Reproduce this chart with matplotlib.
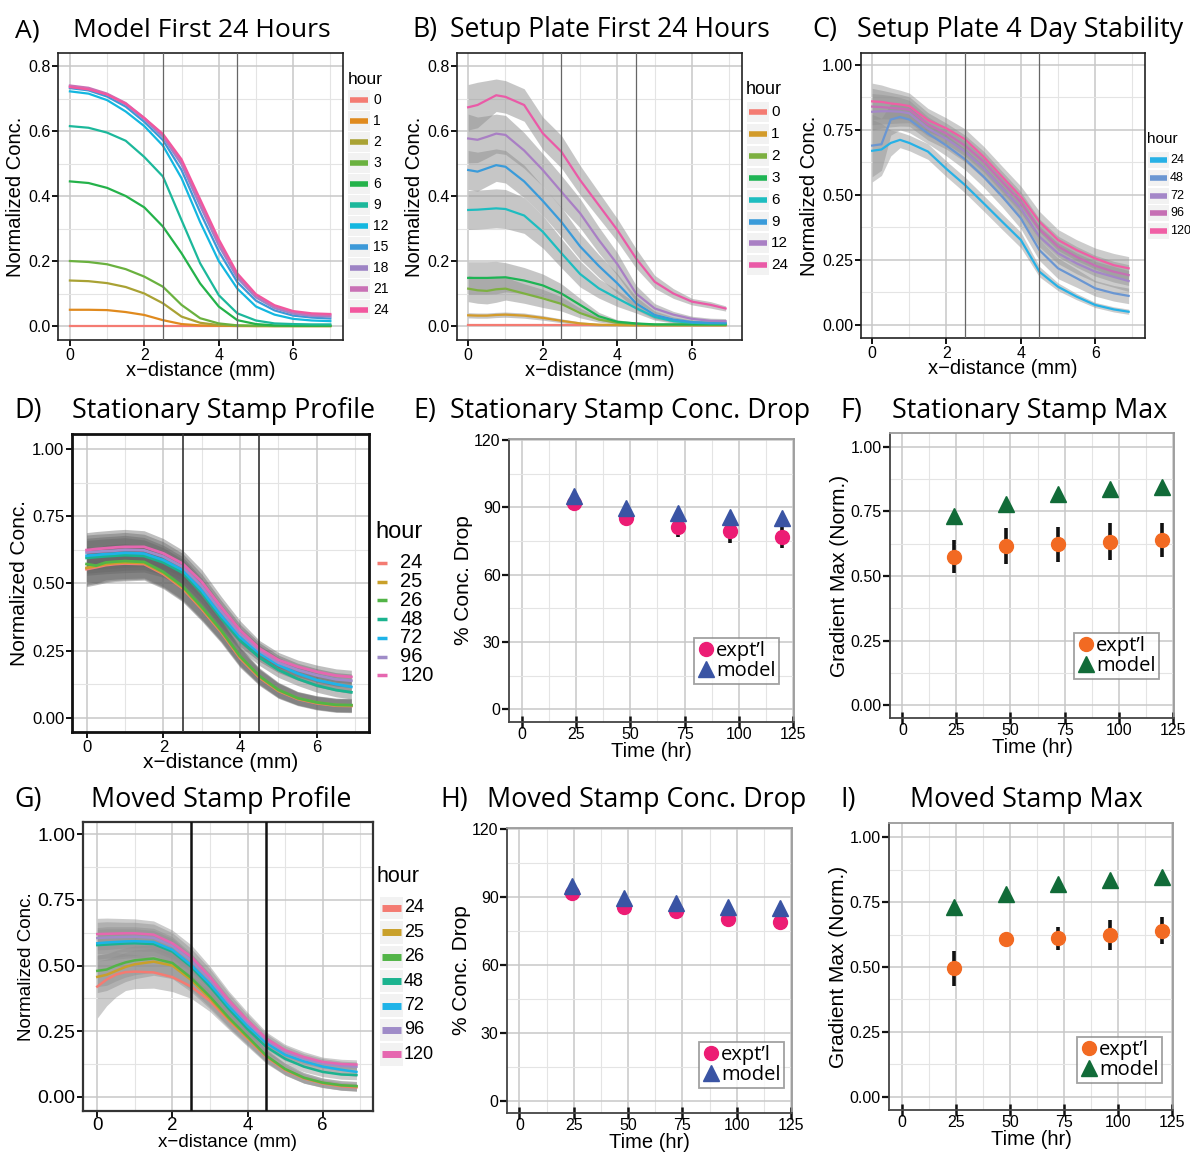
import matplotlib
matplotlib.use('Agg')
import matplotlib.pyplot as plt
from matplotlib.lines import Line2D
from matplotlib.patches import Rectangle

plt.rcParams['font.family'] = ['Liberation Sans', 'DejaVu Sans']
TITLE_FONT = ['Open Sans', 'DejaVu Sans']

W, H = 1190, 1155

# ---------------- data ----------------
# A) model, first 24 hours
xa = [0, 0.5, 1, 1.5, 2, 2.5, 3, 3.5, 4, 4.5, 5, 5.5, 6, 6.5, 7]
hours_a = ['0', '1', '2', '3', '6', '9', '12', '15', '18', '21', '24']
cols_a = ['#F47B72', '#E08A1E', '#A9A234', '#6AB13F', '#24B24A', '#1CB89B',
          '#13B7E0', '#3C99D8', '#9D83C4', '#C971B5', '#F2579E']
a0 = [0, 0, 0, 0, 0, 0, 0, 0, 0, 0, 0, 0, 0, 0, 0]
a1 = [0.050, 0.050, 0.049, 0.043, 0.034, 0.018, 0.006, 0.002, 0.001, 0, 0, 0, 0, 0, 0]
a2 = [0.140, 0.138, 0.132, 0.120, 0.100, 0.070, 0.029, 0.010, 0.003, 0.001, 0, 0, 0, 0, 0]
a3 = [0.200, 0.197, 0.190, 0.175, 0.152, 0.121, 0.065, 0.024, 0.008, 0.002, 0.001, 0, 0, 0, 0]
a6 = [0.445, 0.440, 0.425, 0.400, 0.365, 0.306, 0.224, 0.131, 0.060, 0.018, 0.006, 0.002, 0.001, 0.001, 0.001]
a9 = [0.615, 0.610, 0.595, 0.570, 0.520, 0.460, 0.326, 0.193, 0.095, 0.039, 0.017, 0.008, 0.006, 0.005, 0.005]
a12 = [0.722, 0.715, 0.695, 0.660, 0.615, 0.555, 0.455, 0.320, 0.200, 0.115, 0.060, 0.035, 0.022, 0.017, 0.015]
a15 = [0.732, 0.725, 0.706, 0.675, 0.628, 0.572, 0.480, 0.350, 0.230, 0.135, 0.078, 0.048, 0.032, 0.026, 0.023]
a18 = [0.738, 0.730, 0.712, 0.682, 0.636, 0.582, 0.497, 0.370, 0.248, 0.148, 0.088, 0.055, 0.038, 0.031, 0.029]
a21 = [0.740, 0.733, 0.715, 0.686, 0.640, 0.588, 0.506, 0.382, 0.258, 0.156, 0.094, 0.060, 0.043, 0.035, 0.033]
a24 = [0.735, 0.728, 0.712, 0.684, 0.640, 0.591, 0.513, 0.390, 0.267, 0.162, 0.098, 0.064, 0.046, 0.039, 0.037]
curves_a = [a0, a1, a2, a3, a6, a9, a12, a15, a18, a21, a24]

# experimental x grid (mm)
xe = [0, 0.25, 0.5, 0.75, 1, 1.5, 2, 2.5, 3, 3.5, 4, 4.5, 5, 5.5, 6, 6.5, 6.9]

# B) setup plate, first 24 hours (mean and ribbon half-width)
hours_b = ['0', '1', '2', '3', '6', '9', '12', '24']
cols_b = ['#F47B72', '#D39B2A', '#7DB041', '#1EB454', '#1DBDC0', '#3A9BDA', '#A97FC4', '#EA5AA7']
b0 = [0.003, 0.003, 0.003, 0.003, 0.003, 0.003, 0.003, 0.003, 0.003, 0.003, 0.003, 0.003, 0.003, 0.003, 0.003, 0.003, 0.003]
b1 = [0.033, 0.032, 0.032, 0.034, 0.035, 0.032, 0.025, 0.016, 0.008, 0.004, 0.003, 0.002, 0.002, 0.002, 0.002, 0.002, 0.002]
b2 = [0.115, 0.110, 0.108, 0.113, 0.115, 0.100, 0.085, 0.068, 0.040, 0.020, 0.010, 0.006, 0.004, 0.004, 0.004, 0.004, 0.004]
b3 = [0.148, 0.148, 0.148, 0.149, 0.150, 0.140, 0.125, 0.100, 0.065, 0.030, 0.013, 0.008, 0.005, 0.005, 0.005, 0.005, 0.005]
b6 = [0.357, 0.358, 0.360, 0.362, 0.360, 0.340, 0.290, 0.224, 0.160, 0.116, 0.085, 0.055, 0.028, 0.015, 0.010, 0.008, 0.008]
b9 = [0.480, 0.475, 0.485, 0.495, 0.490, 0.445, 0.385, 0.320, 0.245, 0.185, 0.131, 0.070, 0.034, 0.020, 0.012, 0.010, 0.010]
b12 = [0.577, 0.573, 0.582, 0.592, 0.588, 0.540, 0.480, 0.413, 0.347, 0.265, 0.190, 0.100, 0.054, 0.035, 0.022, 0.016, 0.015]
b24 = [0.673, 0.680, 0.695, 0.710, 0.705, 0.680, 0.593, 0.536, 0.449, 0.372, 0.295, 0.208, 0.136, 0.100, 0.075, 0.065, 0.054]
bw0 = [0.002, 0.002, 0.002, 0.002, 0.002, 0.002, 0.002, 0.002, 0.002, 0.002, 0.002, 0.002, 0.002, 0.002, 0.002, 0.002, 0.002]
bw1 = [0.008, 0.008, 0.008, 0.008, 0.008, 0.008, 0.007, 0.006, 0.005, 0.004, 0.003, 0.002, 0.002, 0.002, 0.002, 0.002, 0.002]
bw2 = [0.040, 0.040, 0.040, 0.040, 0.035, 0.030, 0.028, 0.022, 0.015, 0.008, 0.004, 0.003, 0.003, 0.003, 0.003, 0.003, 0.003]
bw3 = [0.050, 0.050, 0.050, 0.050, 0.045, 0.040, 0.035, 0.030, 0.020, 0.012, 0.006, 0.004, 0.003, 0.003, 0.003, 0.003, 0.003]
bw6 = [0.060, 0.060, 0.060, 0.060, 0.060, 0.055, 0.050, 0.045, 0.040, 0.030, 0.025, 0.015, 0.010, 0.006, 0.005, 0.005, 0.005]
bw9 = [0.060, 0.060, 0.055, 0.050, 0.050, 0.050, 0.045, 0.045, 0.040, 0.035, 0.030, 0.020, 0.012, 0.008, 0.006, 0.006, 0.006]
bw12 = [0.075, 0.070, 0.065, 0.060, 0.060, 0.055, 0.050, 0.050, 0.045, 0.040, 0.035, 0.025, 0.015, 0.010, 0.008, 0.008, 0.008]
bw24 = [0.070, 0.070, 0.060, 0.050, 0.050, 0.050, 0.050, 0.050, 0.045, 0.040, 0.035, 0.030, 0.020, 0.015, 0.010, 0.010, 0.008]
curves_b = [b0, b1, b2, b3, b6, b9, b12, b24]
widths_b = [bw0, bw1, bw2, bw3, bw6, bw9, bw12, bw24]

# C) setup plate, 4 day stability
hours_c = ['24', '48', '72', '96', '120']
cols_c = ['#27B1E6', '#6A96D2', '#A487C8', '#C66FB4', '#F05FA5']
c24 = [0.670, 0.675, 0.700, 0.712, 0.700, 0.667, 0.600, 0.538, 0.468, 0.397, 0.327, 0.205, 0.147, 0.109, 0.077, 0.060, 0.051]
c48 = [0.690, 0.695, 0.790, 0.800, 0.790, 0.737, 0.690, 0.637, 0.570, 0.494, 0.410, 0.288, 0.218, 0.180, 0.141, 0.122, 0.112]
c72 = [0.820, 0.822, 0.822, 0.820, 0.814, 0.756, 0.716, 0.667, 0.603, 0.526, 0.449, 0.340, 0.276, 0.237, 0.205, 0.185, 0.169]
c96 = [0.840, 0.838, 0.835, 0.832, 0.828, 0.772, 0.736, 0.690, 0.628, 0.550, 0.472, 0.368, 0.302, 0.262, 0.228, 0.205, 0.192]
c120 = [0.860, 0.858, 0.852, 0.848, 0.842, 0.788, 0.756, 0.714, 0.647, 0.570, 0.494, 0.397, 0.327, 0.288, 0.256, 0.230, 0.218]
cw24 = [0.120, 0.100, 0.050, 0.030, 0.030, 0.030, 0.030, 0.030, 0.030, 0.030, 0.030, 0.020, 0.015, 0.012, 0.010, 0.010, 0.010]
cw48 = [0.120, 0.100, 0.060, 0.050, 0.050, 0.040, 0.040, 0.040, 0.040, 0.040, 0.040, 0.040, 0.040, 0.035, 0.030, 0.030, 0.030]
cw72 = [0.070, 0.065, 0.060, 0.055, 0.050, 0.045, 0.040, 0.040, 0.040, 0.040, 0.040, 0.040, 0.040, 0.040, 0.040, 0.040, 0.040]
cw96 = [0.070, 0.065, 0.060, 0.055, 0.050, 0.045, 0.040, 0.040, 0.040, 0.040, 0.040, 0.040, 0.040, 0.040, 0.040, 0.040, 0.040]
cw120 = [0.070, 0.065, 0.060, 0.055, 0.050, 0.045, 0.040, 0.040, 0.040, 0.040, 0.040, 0.040, 0.040, 0.040, 0.040, 0.045, 0.045]
curves_c = [c24, c48, c72, c96, c120]
widths_c = [cw24, cw48, cw72, cw96, cw120]

# D) stationary stamp profile
hours_dg = ['24', '25', '26', '48', '72', '96', '120']
cols_dg = ['#F47B72', '#C9A02A', '#52B447', '#1BB38F', '#1EB3E8', '#9F8CC8', '#E667B0']
d24 = [0.553, 0.560, 0.568, 0.572, 0.574, 0.572, 0.535, 0.482, 0.405, 0.320, 0.222, 0.150, 0.100, 0.070, 0.054, 0.045, 0.044]
d25 = [0.558, 0.565, 0.572, 0.576, 0.578, 0.576, 0.539, 0.486, 0.409, 0.324, 0.226, 0.153, 0.102, 0.072, 0.056, 0.047, 0.046]
d26 = [0.572, 0.566, 0.578, 0.581, 0.583, 0.580, 0.543, 0.490, 0.413, 0.327, 0.229, 0.156, 0.104, 0.073, 0.057, 0.048, 0.047]
d48 = [0.595, 0.598, 0.601, 0.603, 0.605, 0.602, 0.578, 0.540, 0.465, 0.372, 0.288, 0.225, 0.178, 0.145, 0.120, 0.103, 0.095]
d72 = [0.603, 0.606, 0.609, 0.611, 0.614, 0.611, 0.587, 0.550, 0.474, 0.382, 0.300, 0.240, 0.196, 0.165, 0.140, 0.125, 0.115]
d96 = [0.615, 0.618, 0.620, 0.622, 0.625, 0.623, 0.600, 0.562, 0.490, 0.398, 0.313, 0.250, 0.205, 0.178, 0.158, 0.143, 0.138]
d120 = [0.624, 0.628, 0.631, 0.634, 0.636, 0.636, 0.612, 0.574, 0.506, 0.413, 0.326, 0.258, 0.215, 0.190, 0.171, 0.157, 0.152]
dw = [0.065, 0.065, 0.065, 0.065, 0.065, 0.060, 0.055, 0.050, 0.045, 0.040, 0.035, 0.030, 0.028, 0.025, 0.025, 0.025, 0.025]
curves_d = [d24, d25, d26, d48, d72, d96, d120]

# G) moved stamp profile
g24 = [0.420, 0.447, 0.466, 0.475, 0.477, 0.474, 0.456, 0.420, 0.365, 0.292, 0.222, 0.152, 0.102, 0.070, 0.051, 0.040, 0.036]
g25 = [0.457, 0.465, 0.480, 0.495, 0.505, 0.515, 0.500, 0.445, 0.375, 0.297, 0.226, 0.155, 0.105, 0.072, 0.053, 0.043, 0.040]
g26 = [0.480, 0.485, 0.500, 0.512, 0.520, 0.527, 0.510, 0.453, 0.382, 0.302, 0.230, 0.157, 0.106, 0.073, 0.054, 0.044, 0.041]
g48 = [0.578, 0.580, 0.582, 0.584, 0.585, 0.582, 0.553, 0.495, 0.420, 0.335, 0.258, 0.190, 0.145, 0.115, 0.095, 0.085, 0.083]
g72 = [0.585, 0.588, 0.590, 0.592, 0.593, 0.590, 0.560, 0.502, 0.430, 0.345, 0.270, 0.205, 0.160, 0.135, 0.115, 0.103, 0.095]
g96 = [0.605, 0.607, 0.608, 0.609, 0.610, 0.606, 0.575, 0.520, 0.447, 0.360, 0.283, 0.215, 0.172, 0.145, 0.128, 0.118, 0.115]
g120 = [0.620, 0.621, 0.622, 0.623, 0.623, 0.618, 0.585, 0.534, 0.457, 0.368, 0.292, 0.222, 0.178, 0.152, 0.133, 0.125, 0.123]
gw24 = [0.120, 0.100, 0.085, 0.070, 0.065, 0.060, 0.055, 0.045, 0.040, 0.035, 0.030, 0.025, 0.020, 0.018, 0.015, 0.015, 0.015]
gw = [0.060, 0.060, 0.058, 0.056, 0.055, 0.052, 0.050, 0.045, 0.040, 0.035, 0.030, 0.025, 0.022, 0.020, 0.018, 0.018, 0.018]
curves_g = [g24, g25, g26, g48, g72, g96, g120]
widths_g = [gw24, gw, gw, gw, gw, gw, gw]

# E, F, H, I) summary points
times = [24, 48, 72, 96, 120]
e_expt = [92.1, 85.1, 81.4, 79.2, 76.9]
e_err = [1.0, 2.0, 4.6, 5.0, 5.2]
e_model = [95.0, 89.6, 87.3, 85.8, 85.1]
f_expt = [0.575, 0.617, 0.622, 0.633, 0.640]
f_err = [0.064, 0.069, 0.068, 0.072, 0.066]
f_model = [0.732, 0.778, 0.817, 0.835, 0.845]
h_expt = [92.0, 85.8, 83.9, 80.2, 79.2]
h_err = [0.5, 2.5, 2.0, 2.5, 2.0]
h_model = [95.0, 89.5, 87.3, 85.8, 85.1]
i_expt = [0.495, 0.607, 0.610, 0.622, 0.640]
i_err = [0.068, 0.010, 0.046, 0.058, 0.051]
i_model = [0.733, 0.780, 0.819, 0.837, 0.847]


# ---------------- helpers ----------------
def fx(x):
    return x / W


def fy(y):
    return 1 - y / H


def px_box(l, t, r, b):
    return [l / W, 1 - b / H, (r - l) / W, (b - t) / H]


fig = plt.figure(figsize=(W / 100, H / 100), dpi=100)
fig.patch.set_facecolor('white')
renderer = fig.canvas.get_renderer()


def style_profile(ax, xlim, ylim, yticks, ylabels, yminor, tick_fs, frame_lw, frame_col,
                  vcol, vlw, lab_fs, xpad=-1, tpad=1.5):
    ax.set_xlim(*xlim)
    ax.set_ylim(*ylim)
    ax.set_xticks([0, 2, 4, 6])
    ax.set_xticklabels(['0', '2', '4', '6'])
    ax.set_xticks([1, 3, 5, 7], minor=True)
    ax.set_yticks(yticks)
    ax.set_yticklabels(ylabels)
    ax.set_yticks(yminor, minor=True)
    ax.grid(which='major', color='#c8c8c8', lw=1.1)
    ax.grid(which='minor', color='#e4e4e4', lw=0.8)
    ax.set_axisbelow(True)
    ax.tick_params(which='minor', length=0)
    ax.tick_params(which='major', direction='out', length=4, width=1.3, color='black',
                   labelsize=tick_fs, pad=1.5)
    ax.tick_params(axis='x', which='major', pad=tpad)
    for s in ax.spines.values():
        s.set_linewidth(frame_lw)
        s.set_color(frame_col)
    for xv in [2.5, 4.5]:
        ax.axvline(xv, color=vcol, lw=vlw, zorder=4)
    ax.set_xlabel('x\u2212distance (mm)', fontsize=lab_fs, labelpad=xpad)
    ax.set_ylabel('Normalized Conc.', fontsize=lab_fs, labelpad=2)


def style_points(ax, xlim, ylim, yticks, ylabels, yminor, ylab):
    ax.set_xlim(*xlim)
    ax.set_ylim(*ylim)
    ax.set_xticks([0, 25, 50, 75, 100, 125])
    ax.set_xticks([12.5, 37.5, 62.5, 87.5, 112.5], minor=True)
    ax.set_yticks(yticks)
    ax.set_yticklabels(ylabels)
    ax.set_yticks(yminor, minor=True)
    ax.grid(which='major', color='#c8c8c8', lw=1.1)
    ax.grid(which='minor', color='#e4e4e4', lw=0.8)
    ax.set_axisbelow(True)
    ax.tick_params(which='minor', length=0)
    ax.tick_params(axis='x', which='major', direction='inout', length=9, width=1.8,
                   color='#111111', labelsize=11.5, pad=-1)
    ax.tick_params(axis='y', which='major', direction='out', length=5, width=1.6,
                   color='#111111', labelsize=11.5, pad=1)
    ax.spines['left'].set_color('#444444')
    ax.spines['bottom'].set_color('#444444')
    ax.spines['top'].set_color('#9a9a9a')
    ax.spines['right'].set_color('#9a9a9a')
    for s in ax.spines.values():
        s.set_linewidth(1.3)
    ax.set_xlabel('Time (hr)', fontsize=14.5, labelpad=0)
    ax.set_ylabel(ylab, fontsize=15, labelpad=1)


def hour_legend(labels, colors, x_title, y_title, fs_title, k0, k1, x_text, y0, dy, fs, lw, bg=True):
    fig.text(fx(x_title), fy(y_title), 'hour', fontsize=fs_title, va='center', ha='left')
    for i, (lab, c) in enumerate(zip(labels, colors)):
        y = y0 + i * dy
        if bg:
            fig.add_artist(Rectangle((fx(k0 - 2), fy(y + dy / 2 - 1)), (k1 - k0 + 4) / W, (dy - 2) / H,
                                     transform=fig.transFigure, facecolor='#f2f2f2', edgecolor='none'))
        fig.add_artist(Line2D([fx(k0), fx(k1)], [fy(y), fy(y)], transform=fig.transFigure,
                              color=c, lw=lw, solid_capstyle='butt'))
        fig.text(fx(x_text), fy(y), lab, fontsize=fs, va='center', ha='left')


def point_legend(ax, c_expt, c_model, x, y):
    h1 = Line2D([], [], ls='none', marker='o', color=c_expt, ms=10)
    h2 = Line2D([], [], ls='none', marker='^', color=c_model, ms=12)
    leg = ax.legend([h1, h2], ['expt\u2019l', 'model'], loc='upper left',
                    bbox_to_anchor=(fx(x), fy(y)), bbox_transform=fig.transFigure,
                    frameon=True, fancybox=False, edgecolor='#8a8a8a',
                    prop={'family': TITLE_FONT, 'size': 14.5}, handlelength=0.9,
                    handletextpad=0.05, borderpad=0.15, labelspacing=0.0, borderaxespad=0)
    leg.get_frame().set_linewidth(1.3)


def points(ax, expt, err, model, c_expt, c_model):
    ax.errorbar(times, expt, yerr=err, fmt='none', ecolor='#111111', elinewidth=2.6, capsize=0, zorder=3)
    ax.plot(times, expt, ls='none', marker='o', ms=10, color=c_expt, zorder=4)
    ax.plot(times, model, ls='none', marker='^', ms=12, color=c_model, zorder=5)


def draw_title(letter, lx, text, tx0, tx1, base):
    t = fig.text(fx(tx0), fy(base), text, fontsize=18, family=TITLE_FONT, va='baseline', ha='left')
    w = t.get_window_extent(renderer).width
    fs = 18 * (tx1 - tx0) / w
    t.set_fontsize(fs)
    fig.text(fx(lx), fy(base), letter, fontsize=fs, family=TITLE_FONT, va='baseline', ha='left')


def ribbons(ax, curves, widths, color, alpha):
    for y, w in zip(curves, widths):
        ax.fill_between(xe, [a - b for a, b in zip(y, w)], [a + b for a, b in zip(y, w)],
                        color=color, alpha=alpha, lw=0, zorder=1)


# ---------------- A ----------------
axA = fig.add_axes(px_box(58, 53, 343, 340))
for y, c in zip(curves_a, cols_a):
    axA.plot(xa, y, color=c, lw=1.6, zorder=2)
style_profile(axA, (-0.32, 7.34), (-0.043, 0.84), [0, 0.2, 0.4, 0.6, 0.8],
              ['0.0', '0.2', '0.4', '0.6', '0.8'], [0.1, 0.3, 0.5, 0.7], 11.5, 1.2, '#222222',
              '#666666', 0.9, 14.5)
hour_legend(hours_a, cols_a, 348, 79, 12.5, 350, 368, 373, 100, 21, 10, 4)

# ---------------- B ----------------
axB = fig.add_axes(px_box(457, 53, 742, 340))
ribbons(axB, curves_b, widths_b, '#8f8f8f', 0.5)
for y, c in zip(curves_b, cols_b):
    axB.plot(xe, y, color=c, lw=1.6, zorder=2)
style_profile(axB, (-0.30, 7.34), (-0.043, 0.84), [0, 0.2, 0.4, 0.6, 0.8],
              ['0.0', '0.2', '0.4', '0.6', '0.8'], [0.1, 0.3, 0.5, 0.7], 11.5, 1.2, '#222222',
              '#666666', 0.9, 14.5)
hour_legend(hours_b, cols_b, 746, 90, 13, 749, 767, 771, 112, 21.9, 11, 4)

# ---------------- C ----------------
axC = fig.add_axes(px_box(861, 53, 1145, 338))
ribbons(axC, curves_c, widths_c, '#8f8f8f', 0.45)
for y, c in zip(curves_c, cols_c):
    axC.plot(xe, y, color=c, lw=1.6, zorder=2)
style_profile(axC, (-0.30, 7.34), (-0.05, 1.046), [0, 0.25, 0.5, 0.75, 1.0],
              ['0.00', '0.25', '0.50', '0.75', '1.00'], [0.125, 0.375, 0.625, 0.875], 11.5, 1.2,
              '#222222', '#666666', 0.9, 14.5)
hour_legend(hours_c, cols_c, 1147, 139, 11, 1150, 1167, 1170, 160, 17.8, 9, 4)

# ---------------- D ----------------
axD = fig.add_axes(px_box(72, 434, 369, 732))
ribbons(axD, curves_d, [dw] * len(curves_d), '#666666', 0.42)
for y, c in zip(curves_d, cols_dg):
    axD.plot(xe, y, color=c, lw=2.0, zorder=2)
style_profile(axD, (-0.38, 7.36), (-0.053, 1.056), [0, 0.25, 0.5, 0.75, 1.0],
              ['0.00', '0.25', '0.50', '0.75', '1.00'], [0.125, 0.375, 0.625, 0.875], 12, 2.0,
              '#111111', '#333333', 1.2, 15)
hour_legend(hours_dg, cols_dg, 375, 532, 17, 377, 387, 400, 563, 18.7, 14.5, 2.5, bg=False)

# ---------------- G ----------------
axG = fig.add_axes(px_box(83, 822, 373, 1111))
ribbons(axG, curves_g, widths_g, '#8f8f8f', 0.45)
for y, c in zip(curves_g, cols_dg):
    axG.plot(xe, y, color=c, lw=1.8, zorder=2)
style_profile(axG, (-0.38, 7.34), (-0.054, 1.047), [0, 0.25, 0.5, 0.75, 1.0],
              ['0.00', '0.25', '0.50', '0.75', '1.00'], [0.125, 0.375, 0.625, 0.875], 13.5, 1.6,
              '#333333', '#111111', 1.8, 13.5, xpad=0, tpad=0.5)
axG.tick_params(axis='y', labelsize=14)
hour_legend(hours_dg, cols_dg, 377, 877, 15.5, 382, 401, 404, 908, 24.4, 13, 5)

# ---------------- E ----------------
axE = fig.add_axes(px_box(509, 439, 794, 722))
points(axE, e_expt, e_err, e_model, '#EC1C74', '#3A54A4')
style_points(axE, (-6.1, 125.6), (-5.7, 120.4), [0, 30, 60, 90, 120], ['0', '30', '60', '90', '120'],
             [15, 45, 75, 105], '% Conc. Drop')
point_legend(axE, '#EC1C74', '#3A54A4', 694, 638)

# ---------------- F ----------------
axF = fig.add_axes(px_box(890, 433, 1174, 718))
points(axF, f_expt, f_err, f_model, '#F26A22', '#116B38')
style_points(axF, (-5.7, 125.6), (-0.049, 1.053), [0, 0.25, 0.5, 0.75, 1.0],
             ['0.00', '0.25', '0.50', '0.75', '1.00'], [0.125, 0.375, 0.625, 0.875], 'Gradient Max (Norm.)')
point_legend(axF, '#F26A22', '#116B38', 1074, 633)

# ---------------- H ----------------
axH = fig.add_axes(px_box(507, 828, 792, 1113))
points(axH, h_expt, h_err, h_model, '#EC1C74', '#3A54A4')
style_points(axH, (-5.7, 125.4), (-5.4, 120.6), [0, 30, 60, 90, 120], ['0', '30', '60', '90', '120'],
             [15, 45, 75, 105], '% Conc. Drop')
point_legend(axH, '#EC1C74', '#3A54A4', 699, 1042)

# ---------------- I ----------------
axI = fig.add_axes(px_box(889, 823, 1173, 1110))
points(axI, i_expt, i_err, i_model, '#F26A22', '#116B38')
style_points(axI, (-5.9, 125.3), (-0.051, 1.055), [0, 0.25, 0.5, 0.75, 1.0],
             ['0.00', '0.25', '0.50', '0.75', '1.00'], [0.125, 0.375, 0.625, 0.875], 'Gradient Max (Norm.)')
point_legend(axI, '#F26A22', '#116B38', 1077, 1037)

# ---------------- titles ----------------
draw_title('A)', 15, 'Model First 24 Hours', 73, 330, 37)
draw_title('B)', 412, 'Setup Plate First 24 Hours', 450, 770, 37)
draw_title('C)', 812, 'Setup Plate 4 Day Stability', 857, 1183, 37)
draw_title('D)', 14, 'Stationary Stamp Profile', 72, 375, 418)
draw_title('E)', 413, 'Stationary Stamp Conc. Drop', 450, 810, 418)
draw_title('F)', 840, 'Stationary Stamp Max', 892, 1168, 418)
draw_title('G)', 14, 'Moved Stamp Profile', 91, 352, 807)
draw_title('H)', 440, 'Moved Stamp Conc. Drop', 487, 807, 807)
draw_title('I)', 840, 'Moved Stamp Max', 910, 1143, 807)

fig.savefig('out.png', dpi=100, facecolor='white')
